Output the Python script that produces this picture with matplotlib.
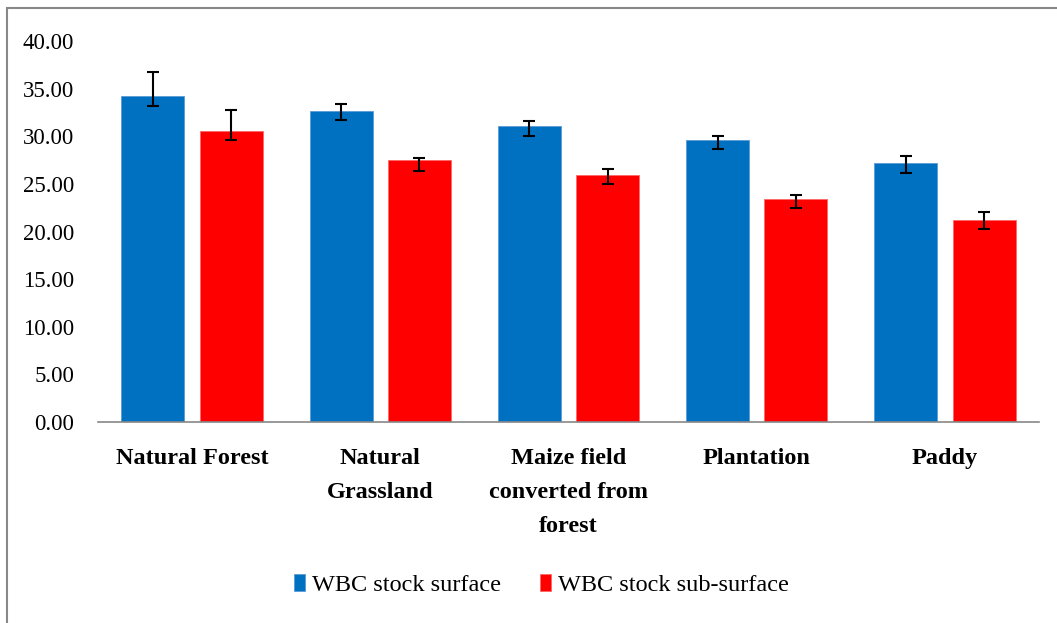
import numpy as np
import matplotlib.pyplot as plt
from matplotlib.patches import Rectangle

plt.rcParams['font.family'] = ['Liberation Serif', 'DejaVu Serif']

categories = ['Natural Forest', 'Natural\nGrassland', 'Maize field\nconverted from\nforest',
              'Plantation', 'Paddy']
surface = [34.2, 32.7, 31.1, 29.6, 27.2]
surface_err_lo = [1.0, 1.0, 1.1, 0.95, 1.1]
surface_err_hi = [2.6, 0.65, 0.5, 0.4, 0.75]
subsurface = [30.6, 27.5, 25.9, 23.4, 21.2]
subsurface_err_lo = [1.0, 1.15, 0.95, 0.95, 0.95]
subsurface_err_hi = [2.15, 0.25, 0.7, 0.4, 0.85]
yticks = [0, 5, 10, 15, 20, 25, 30, 35, 40]

fig = plt.figure(figsize=(10.57, 6.23), dpi=100)
ax = fig.add_axes([0.0927, 0.3226, 0.8903, 0.6114])

x = np.arange(len(categories))
w = 0.335
off = 0.208
ax.bar(x - off, surface, w, color='#0070C0', edgecolor='#5a9bd5', linewidth=0.6,
       label='WBC stock surface',
       yerr=[surface_err_lo, surface_err_hi], capsize=4.3,
       error_kw=dict(ecolor='black', elinewidth=1.5, capthick=1.5))
ax.bar(x + off, subsurface, w, color='#FF0000', edgecolor='#ff6666', linewidth=0.6,
       label='WBC stock sub-surface',
       yerr=[subsurface_err_lo, subsurface_err_hi], capsize=4.3,
       error_kw=dict(ecolor='black', elinewidth=1.5, capthick=1.5))

ax.set_xlim(-0.5, len(categories) - 0.5)
ax.set_ylim(0, 40)
ax.set_yticks(yticks)
ax.set_yticklabels(['%.2f' % v for v in yticks], fontsize=16.5)
ax.set_xticks(x)
ax.set_xticklabels(categories, fontsize=17.5, fontweight='bold', linespacing=1.8)
ax.tick_params(axis='both', length=0)
ax.tick_params(axis='y', pad=17)
ax.tick_params(axis='x', pad=19)
for s in ['top', 'right', 'left']:
    ax.spines[s].set_visible(False)
ax.spines['bottom'].set_color('#888888')
ax.spines['bottom'].set_linewidth(1.2)

ax.legend(loc='center', bbox_to_anchor=(0.471, -0.428), ncol=2, frameon=False,
          fontsize=17.5, handlelength=0.45, handleheight=0.7, handletextpad=0.3,
          columnspacing=1.6)

fig.patches.append(Rectangle((7 / 1057, -0.1), 1.2, 1 - 8 / 623 + 0.1,
                             transform=fig.transFigure, fill=False,
                             edgecolor='#888888', linewidth=1.5))

fig.savefig('out.png', dpi=100)
